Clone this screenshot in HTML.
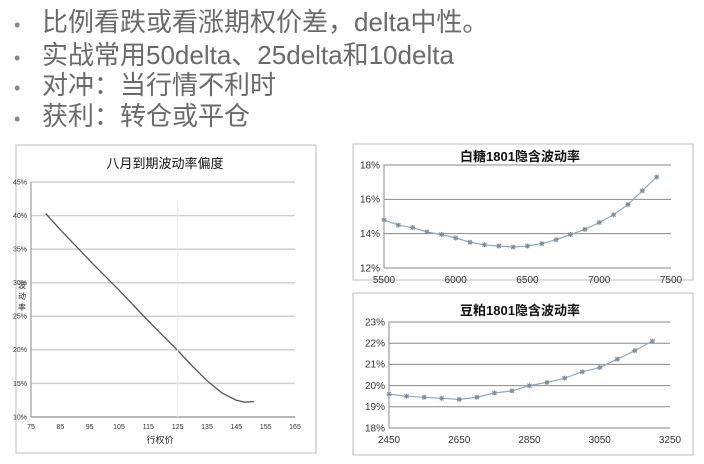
<!DOCTYPE html>
<html><head><meta charset="utf-8">
<style>
body{margin:0;width:704px;height:464px;background:#fff;overflow:hidden;font-family:"Liberation Sans","Noto Sans CJK SC",sans-serif;}
.b{position:absolute;left:14px;font-size:26px;color:#6a6a6a;line-height:30px;white-space:nowrap;}
.b span{display:inline-block;width:28px;font-size:18px;color:#888;}
svg{position:absolute;left:0;top:0;}
</style></head><body>
<div class="b" style="top:7px"><span>•</span>比例看跌或看涨期权价差，delta中性。</div>
<div class="b" style="top:40px"><span>•</span>实战常用50delta、25delta和10delta</div>
<div class="b" style="top:70px"><span>•</span>对冲：当行情不利时</div>
<div class="b" style="top:101px"><span>•</span>获利：转仓或平仓</div>
<svg id="s" width="704" height="464"></svg>
<script>
// Chart 1
const c1X=[80,85,90,95,100,105,110,115,120,125,130,135,140,145,148,151];
const c1Y=[40.3,37.9,35.6,33.3,31.1,28.9,26.6,24.3,22.1,19.9,17.6,15.4,13.6,12.5,12.2,12.3];
const c1XTicks=[75,85,95,105,115,125,135,145,155,165];
const c1YTicks=[10,15,20,25,30,35,40,45];
// Chart 2
const c2X=[5500,5600,5700,5800,5900,6000,6100,6200,6300,6400,6500,6600,6700,6800,6900,7000,7100,7200,7300,7400];
const c2Y=[14.8,14.5,14.35,14.1,13.95,13.75,13.5,13.35,13.28,13.22,13.28,13.42,13.65,13.95,14.25,14.65,15.1,15.7,16.5,17.3];
const c2XTicks=[5500,6000,6500,7000,7500];
const c2YTicks=[12,14,16,18];
// Chart 3
const c3X=[2450,2500,2550,2600,2650,2700,2750,2800,2850,2900,2950,3000,3050,3100,3150,3200];
const c3Y=[19.6,19.5,19.45,19.4,19.35,19.45,19.65,19.75,20.0,20.15,20.35,20.65,20.85,21.25,21.65,22.1];
const c3XTicks=[2450,2650,2850,3050,3250];
const c3YTicks=[18,19,20,21,22,23];

const s=document.getElementById('s');
const NS='http://www.w3.org/2000/svg';
function mk(t,a,p){const e=document.createElementNS(NS,t);for(const k in a)e.setAttribute(k,a[k]);(p||s).appendChild(e);return e;}
function lin(d0,d1,r0,r1){return v=>r0+(v-d0)/(d1-d0)*(r1-r0);}

function chart(o){
  const g=mk('g',{});
  
  
  const fr=mk('rect',{x:o.box[0],y:o.box[1],width:o.box[2],height:o.box[3],fill:'#fff',stroke:'#bdbdbd','stroke-width':1},g);
  
  
  const xs=lin(o.xt[0],o.xt[o.xt.length-1],o.px[0],o.px[1]);
  const ys=lin(o.yt[0],o.yt[o.yt.length-1],o.py[0],o.py[1]);
  o.yt.forEach(v=>{
    const l=mk('line',{x1:o.px[0],x2:o.px[1],y1:ys(v),y2:ys(v),stroke:o.grid,'stroke-width':o.gw},g);
    
    
    const t=mk('text',{x:o.px[0]-4,y:ys(v)+o.fs/3,'font-size':o.fs,'text-anchor':'end',fill:'#333'},g);
    t.textContent=v+'%';
    
    
  });
  o.xt.forEach(v=>{
    const t=mk('text',{x:xs(v),y:o.py[0]+o.fs+5,'font-size':o.fs,'text-anchor':'middle',fill:'#333'},g);
    t.textContent=v;
    
    
  });
  mk('line',{x1:o.px[0],x2:o.px[0],y1:o.py[0],y2:o.py[1],stroke:'#888'},g);
  mk('line',{x1:o.px[0],x2:o.px[1],y1:o.py[0],y2:o.py[0],stroke:'#888'},g);
  const tt=mk('text',{x:o.tx,y:o.ty,'font-size':o.tfs,'text-anchor':'middle',fill:'#111','font-weight':o.tb?'bold':'normal'},g);
  tt.textContent=o.title;
  
  
  const d=o.X.map((x,i)=>(i?'L':'M')+xs(x).toFixed(1)+','+ys(o.Y[i]).toFixed(1)).join('');
  const p=mk('path',{d:d,fill:'none',stroke:o.lc,'stroke-width':o.lw},g);
  
  
  if(o.mark)o.X.forEach((x,i)=>{
    const cx=xs(x),cy=ys(o.Y[i]);
    const m=mk('path',{d:`M${cx-2.5},${cy}h5M${cx},${cy-2.5}v5M${cx-2},${cy-2}l4,4M${cx+2},${cy-2}l-4,4`,stroke:'#7f8c96','stroke-width':1},g);
    
    
  });
  return {g,xs,ys};
}
const a=chart({name:'skew-chart',box:[16,145,300,308],X:c1X,Y:c1Y,xt:c1XTicks,yt:c1YTicks,px:[31,295],py:[417,182],grid:'#d0d0d0',gw:1.5,fs:7,title:'八月到期波动率偏度',tx:165,ty:168,tfs:13,tb:false,lc:'#555',lw:1.3,mark:false});
mk('line',{x1:a.xs(125),x2:a.xs(125),y1:200,y2:417,stroke:'#eee'},a.g);
const yl=mk('text',{x:22,y:296,'font-size':8,fill:'#222'},a.g);
yl.innerHTML='<tspan x="18" y="288">波</tspan><tspan x="18" y="299">动</tspan><tspan x="18" y="310">率</tspan>';


const xl=mk('text',{x:160,y:443,'font-size':9,'text-anchor':'middle',fill:'#222'},a.g);
xl.textContent='行权价';


chart({name:'sugar-chart',box:[353,144,340,136],X:c2X,Y:c2Y,xt:c2XTicks,yt:c2YTicks,px:[384,671],py:[268,165],grid:'#888',gw:1,fs:10,title:'白糖1801隐含波动率',tx:520,ty:161,tfs:13,tb:true,lc:'#8fa9b8',lw:1.2,mark:true});
chart({name:'soymeal-chart',box:[353,293,340,162],X:c3X,Y:c3Y,xt:c3XTicks,yt:c3YTicks,px:[389,670],py:[428,322],grid:'#888',gw:1,fs:10,title:'豆粕1801隐含波动率',tx:520,ty:315,tfs:13,tb:true,lc:'#8fa9b8',lw:1.2,mark:true});
</script>
</body></html>
